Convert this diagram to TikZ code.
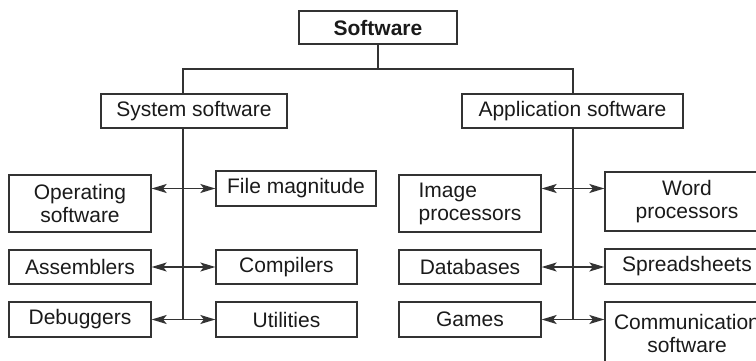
\documentclass[tikz,border=0pt]{standalone}
\usepackage{fontspec}
\setmainfont{Liberation Sans}
\usetikzlibrary{arrows.meta}
\definecolor{ln}{HTML}{333333}
\definecolor{tx}{HTML}{1A1A1A}
\begin{document}
\begin{tikzpicture}[x=1pt,y=-1pt,
  box/.style={draw=ln, line width=1.3pt, inner sep=0pt, text=tx,
    font=\fontsize{21}{23}\selectfont, align=center},
  conn/.style={draw=ln, line width=1.3pt},
  arr/.style={conn, {Stealth[length=15pt,width=9pt,inset=3.5pt]}-{Stealth[length=15pt,width=9pt,inset=3.5pt]}}]
\useasboundingbox (0,0) rectangle (756,361);
\clip (0,0) rectangle (756,361);
% top
\node[box, minimum width=158, minimum height=33, font=\fontsize{21}{23}\selectfont\bfseries] (sw) at (378,27.5) {Software};
\node[box, minimum width=186, minimum height=34] (sys) at (194,111) {System software};
\node[box, minimum width=221, minimum height=34] (app) at (572.5,111) {Application software};
% left column
\node[box, minimum width=142, minimum height=57] (op) at (80,203.5) {Operating\\software};
\node[box, minimum width=160, minimum height=35] (fm) at (296,188.5) {File magnitude};
\node[box, minimum width=142, minimum height=34] (asm) at (80,267) {Assemblers};
\node[box, minimum width=141, minimum height=34] (cmp) at (286.5,267) {Compilers};
\node[box, minimum width=142, minimum height=35] (dbg) at (80,319.5) {Debuggers};
\node[box, minimum width=141, minimum height=35] (utl) at (286.5,319.5) {Utilities};
% right column
\node[box, minimum width=142, minimum height=57, align=left] (img) at (470,203.5) {Image\\processors};
\node[box, minimum width=164, minimum height=59] (wp) at (687,201.5) {Word\\processors};
\node[box, minimum width=142, minimum height=34] (db) at (470,267) {Databases};
\node[box, minimum width=164, minimum height=35] (ss) at (687,266.5) {Spreadsheets};
\node[box, minimum width=142, minimum height=35] (gm) at (470,319.5) {Games};
\node[box, minimum width=164, minimum height=63] (cs) at (687,333.5) {Communication\\software};
% tree lines
\coordinate (lt) at (183,69);
\coordinate (rt) at (573,69);
\draw[conn] (sw.south) |- (lt) -- (lt |- sys.north);
\draw[conn] (sw.south) |- (rt) -- (rt |- app.north);
\draw[conn] (lt |- sys.south) -- (lt |- dbg.east);
\draw[conn] (rt |- app.south) -- (rt |- gm.east);
% arrows left
\draw[arr] (op.east |- fm.west) -- (fm.west);
\draw[arr] (asm.east) -- (cmp.west);
\draw[arr] (dbg.east) -- (utl.west);
% arrows right
\draw[arr] (img.east |- fm.west) -- (wp.west |- fm.west);
\draw[arr] (db.east) -- (db.east -| ss.west);
\draw[arr] (gm.east) -- (gm.east -| cs.west);
\end{tikzpicture}
\end{document}
